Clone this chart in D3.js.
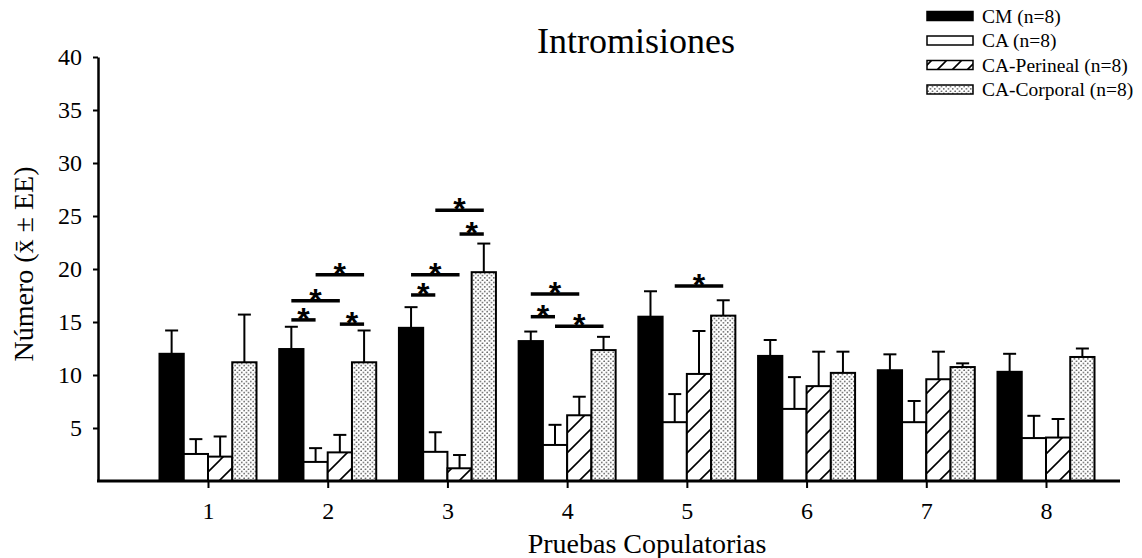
<!DOCTYPE html>
<html><head><meta charset="utf-8">
<script src="https://cdn.jsdelivr.net/npm/d3@7"></script>
<style>body{margin:0;background:#fff;} svg{display:block;}</style>
</head><body>
<svg id="chart" width="1142" height="558"></svg>
<script>
// ---- data ----
const categories = ["1","2","3","4","5","6","7","8"];
const seriesNames = ["CM (n=8)","CA (n=8)","CA-Perineal (n=8)","CA-Corporal (n=8)"];
const cmMean   = [12.0, 12.45, 14.45, 13.2, 15.5, 11.8, 10.45, 10.3];
const cmErr    = [2.2, 2.1, 1.95, 0.9, 2.4, 1.5, 1.5, 1.7];
const caMean   = [2.55, 1.8, 2.75, 3.4, 5.55, 6.8, 5.55, 4.05];
const caErr    = [1.4, 1.3, 1.85, 1.9, 2.65, 3.0, 2.0, 2.1];
const perMean  = [2.3, 2.7, 1.2, 6.2, 10.1, 8.95, 9.6, 4.1];
const perErr   = [1.9, 1.65, 1.25, 1.75, 4.05, 3.25, 2.6, 1.75];
const corpMean = [11.2, 11.2, 19.7, 12.35, 15.6, 10.2, 10.75, 11.7];
const corpErr  = [4.5, 3.0, 2.7, 1.25, 1.45, 2.0, 0.35, 0.8];
const yTicks = [5, 10, 15, 20, 25, 30, 35, 40];
// significance bars: group, from series index, to series index, level
const sigGroup = ["2","2","2","2","3","3","3","3","4","4","4","5"];
const sigFrom  = [0, 0, 1, 2, 0, 0, 2, 1, 0, 0, 1, 1];
const sigTo    = [1, 2, 3, 3, 1, 2, 3, 3, 1, 2, 3, 3];
const sigLevel = [15.2, 17.0, 19.45, 14.8, 17.55, 19.45, 23.3, 25.55, 15.5, 17.65, 14.6, 18.4];

const means = [cmMean, caMean, perMean, corpMean];
const errs = [cmErr, caErr, perErr, corpErr];
const fills = ["#000", "#fff", "url(#hatch)", "url(#dots)"];
const legendFills = ["#000", "#fff", "url(#hatchL)", "url(#dots)"];
const serif = "Liberation Serif, Times New Roman, serif";

const svg = d3.select("#chart");
const defs = svg.append("defs");
const hp = defs.append("pattern").attr("id","hatch").attr("patternUnits","userSpaceOnUse")
  .attr("width",20).attr("height",20);
hp.append("rect").attr("width",20).attr("height",20).attr("fill","#fff");
hp.append("path").attr("d","M-5,5 L5,-5 M0,20 L20,0 M15,25 L25,15").attr("stroke","#000").attr("stroke-width",1.6);
const hl = defs.append("pattern").attr("id","hatchL").attr("patternUnits","userSpaceOnUse")
  .attr("width",15).attr("height",15).attr("y",2);
hl.append("rect").attr("width",15).attr("height",15).attr("fill","#fff");
hl.append("path").attr("d","M-5,5 L5,-5 M0,15 L15,0 M10,20 L20,10").attr("stroke","#000").attr("stroke-width",1.6);
const dp = defs.append("pattern").attr("id","dots").attr("patternUnits","userSpaceOnUse")
  .attr("width",4.5).attr("height",4.5);
dp.append("rect").attr("width",4.5).attr("height",4.5).attr("fill","#fff");
dp.append("circle").attr("cx",1.1).attr("cy",1.1).attr("r",0.75).attr("fill","#222");
dp.append("circle").attr("cx",3.35).attr("cy",3.35).attr("r",0.75).attr("fill","#222");

// scales
const x = d3.scalePoint().domain(categories).range([208, 1046]);
const xs = d3.scaleBand().domain(d3.range(4)).range([-48.5, 48.5]).padding(0);
const y = d3.scaleLinear().domain([0, 40]).range([481, 57]);
const bw = xs.bandwidth();

const barData = [];
categories.forEach((c, gi) => {
  for (let s = 0; s < 4; s++) barData.push({c, s, v: means[s][gi], e: errs[s][gi]});
});
const g = svg.append("g");
g.selectAll("g.err").data(barData).enter().append("g").attr("class","err").each(function(d){
  const cx = x(d.c) + xs(d.s) + bw/2;
  const sel = d3.select(this);
  sel.append("line").attr("x1",cx).attr("x2",cx).attr("y1",y(d.v)).attr("y2",y(d.v+d.e))
    .attr("stroke","#000").attr("stroke-width",2);
  sel.append("line").attr("x1",cx-6.5).attr("x2",cx+6.5).attr("y1",y(d.v+d.e)).attr("y2",y(d.v+d.e))
    .attr("stroke","#000").attr("stroke-width",2);
});
g.selectAll("rect.bar").data(barData).enter().append("rect").attr("class","bar")
  .attr("x", d => x(d.c) + xs(d.s))
  .attr("width", bw)
  .attr("y", d => y(d.v))
  .attr("height", d => y(0) - y(d.v))
  .attr("fill", d => fills[d.s])
  .attr("stroke", "#000").attr("stroke-width", 2);

// significance
const sig = sigGroup.map((gr, i) => ({gr, f: sigFrom[i], t: sigTo[i], lv: sigLevel[i]}));
const sg = svg.append("g");
sig.forEach(d => {
  const x1 = x(d.gr) + xs(d.f) + bw/2;
  const x2 = x(d.gr) + xs(d.t) + bw/2;
  const yy = y(d.lv);
  sg.append("line").attr("x1",x1).attr("x2",x2).attr("y1",yy).attr("y2",yy)
    .attr("stroke","#000").attr("stroke-width",3.5);
  sg.append("text").attr("x",(x1+x2)/2).attr("y",yy+10).attr("text-anchor","middle")
    .attr("font-family","Liberation Sans, Arial, sans-serif").attr("font-weight","bold")
    .attr("font-size",32).text("*");
});

// axes
const yAxis = svg.append("g").attr("transform","translate(98,0)")
  .call(d3.axisLeft(y).tickValues(yTicks).tickSize(5).tickSizeOuter(0).tickPadding(11).tickFormat(d3.format("d")));
yAxis.select(".domain").attr("stroke-width",2.5);
yAxis.selectAll(".tick line").attr("stroke-width",2);
yAxis.selectAll("text").attr("font-family",serif).attr("font-size",24).attr("fill","#000");

const xAxis = svg.append("g").attr("transform","translate(0,481)")
  .call(d3.axisBottom(x).tickSize(7).tickSizeOuter(0).tickPadding(14));
xAxis.select(".domain").remove();
xAxis.selectAll(".tick line").attr("stroke-width",2);
xAxis.selectAll("text").attr("font-family",serif).attr("font-size",24).attr("fill","#000");
svg.append("line").attr("x1",97).attr("x2",1120).attr("y1",481).attr("y2",481)
  .attr("stroke","#000").attr("stroke-width",3);

// titles
svg.append("text").attr("x",636).attr("y",53).attr("text-anchor","middle")
  .attr("font-family",serif).attr("font-size",36).text("Intromisiones");
svg.append("text").attr("x",647).attr("y",553).attr("text-anchor","middle")
  .attr("font-family",serif).attr("font-size",28).text("Pruebas Copulatorias");
svg.append("text").attr("transform","translate(33,264) rotate(-90)").attr("text-anchor","middle")
  .attr("font-family",serif).attr("font-size",28).text("Número (x̄ ± EE)");

// legend
const lg = svg.append("g");
const rowY = [16, 40.5, 65, 89.5];
seriesNames.forEach((n, i) => {
  lg.append("rect").attr("x",927).attr("y",rowY[i]-4.5).attr("width",46).attr("height",9)
    .attr("fill",legendFills[i]).attr("stroke","#000").attr("stroke-width",1.5);
  lg.append("text").attr("x",982).attr("y",rowY[i]).attr("dy","0.35em")
    .attr("font-family",serif).attr("font-size",19.5).text(n);
});
</script>
</body></html>
